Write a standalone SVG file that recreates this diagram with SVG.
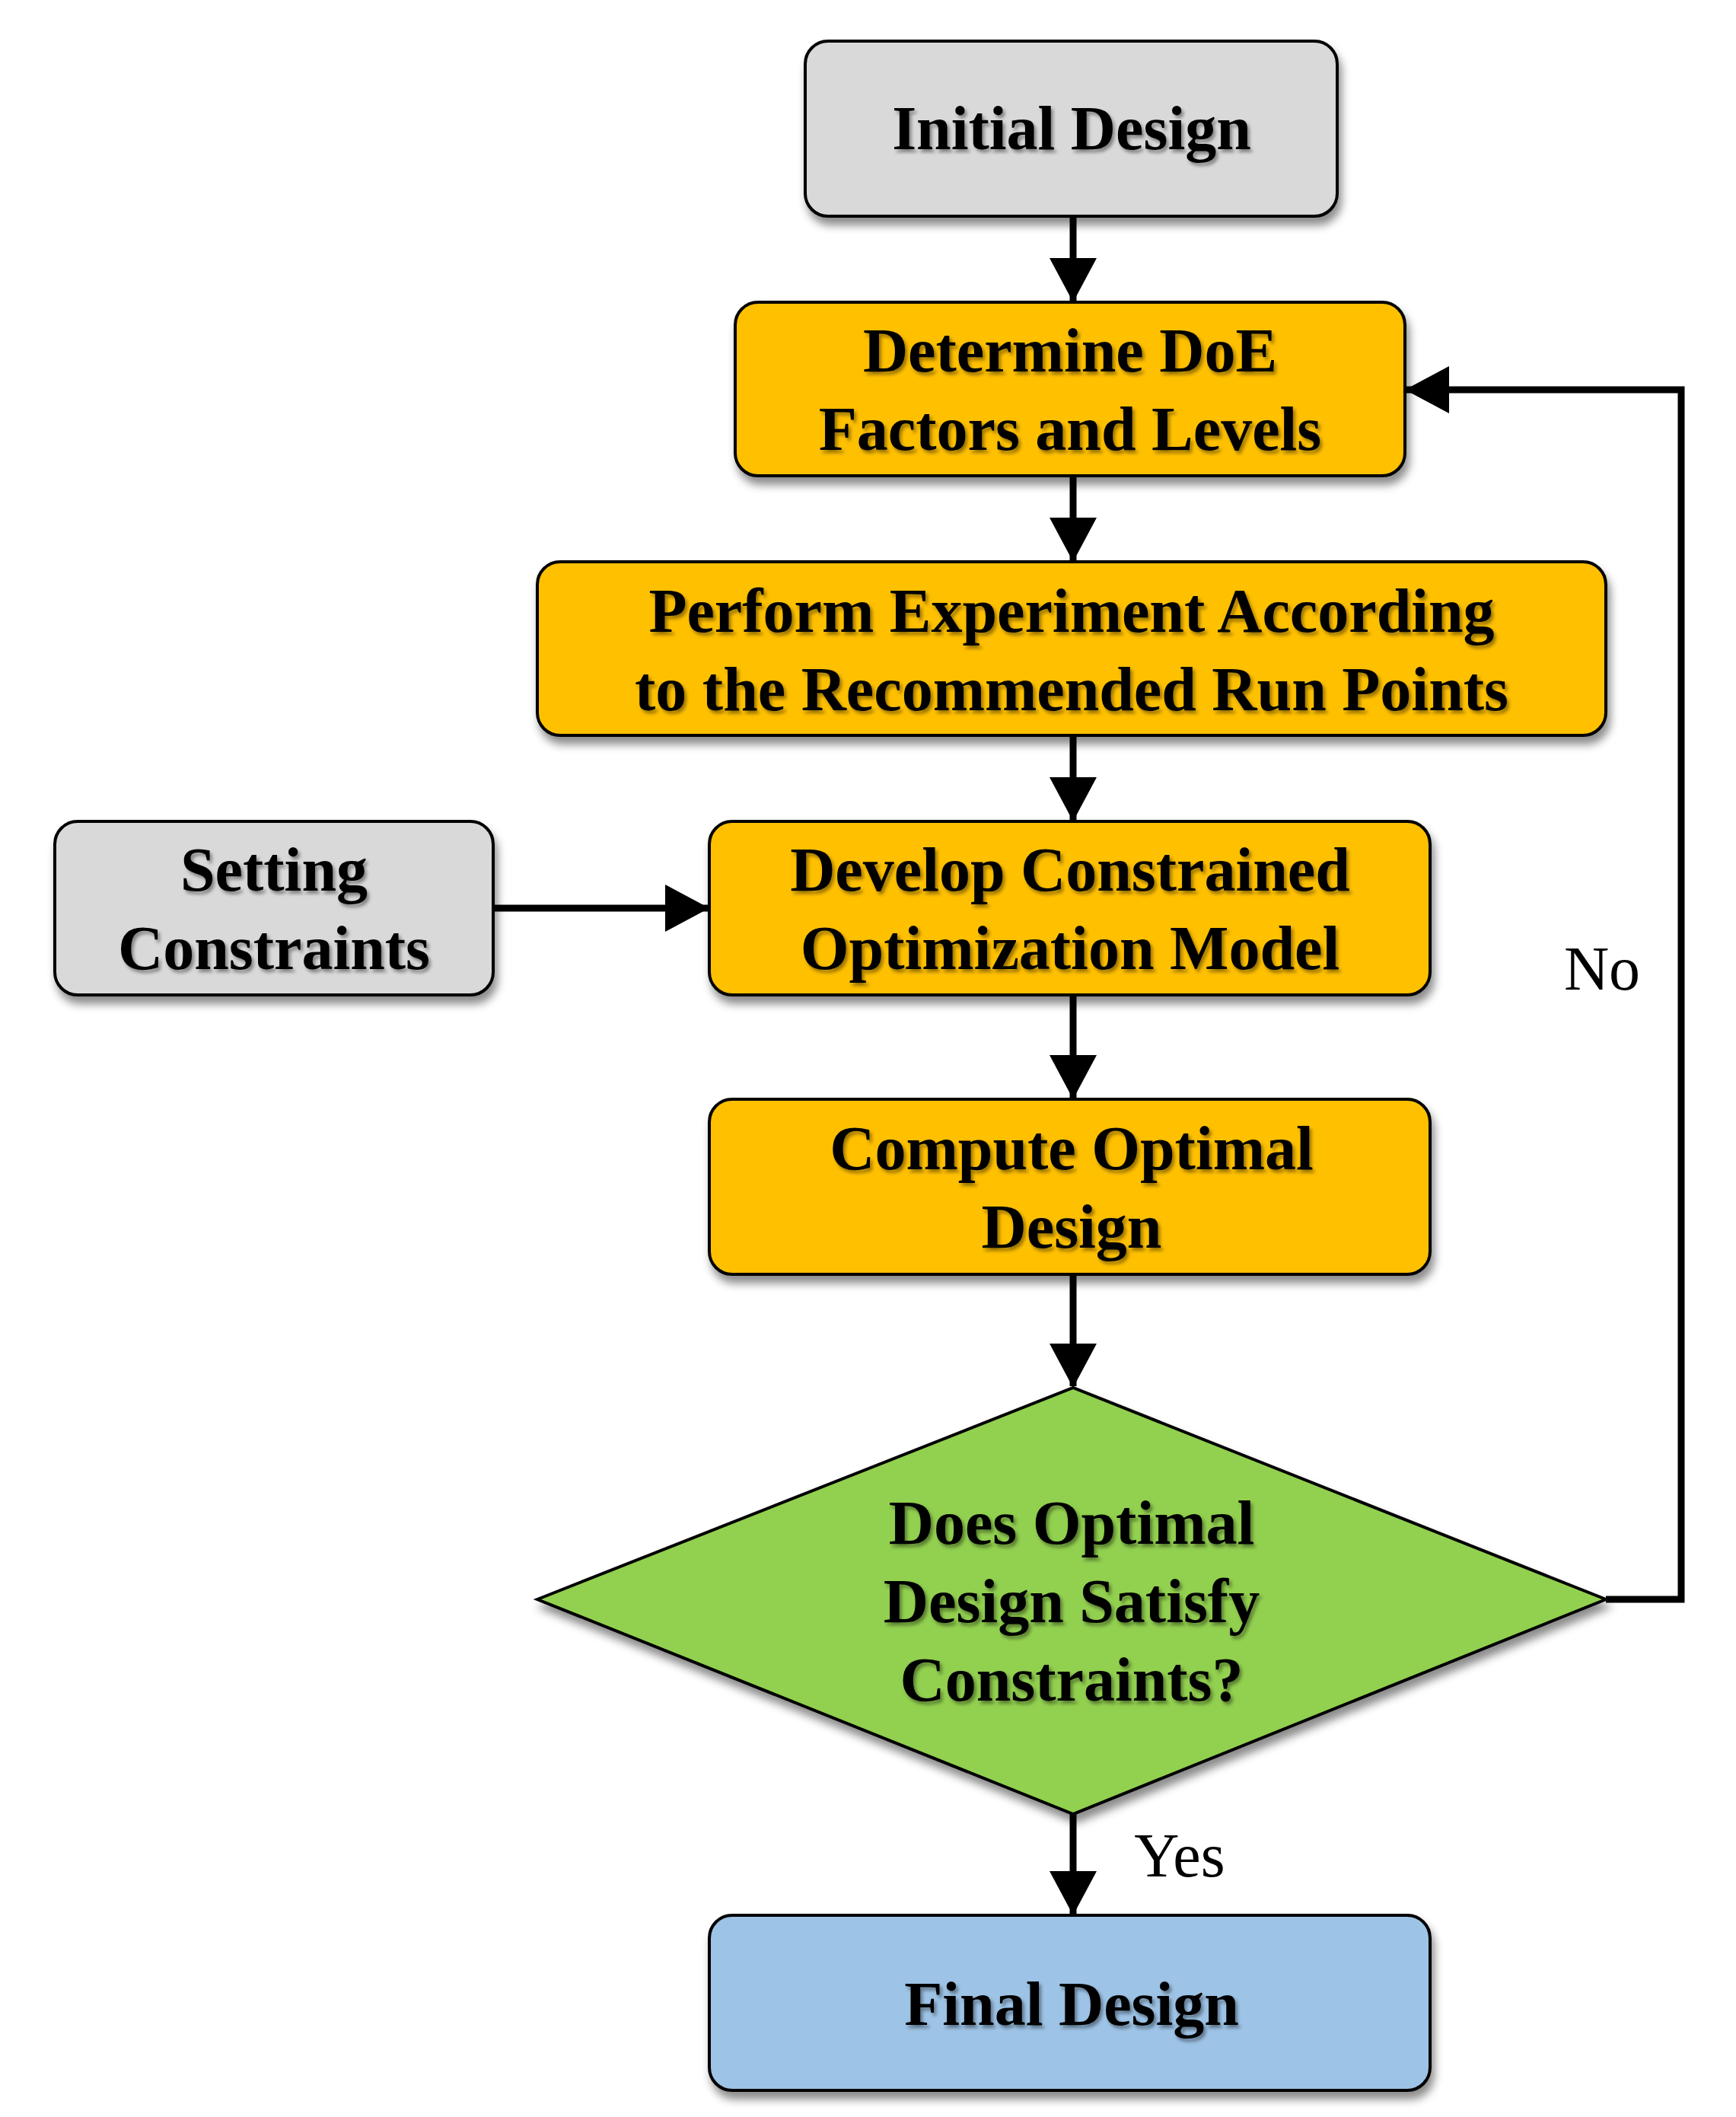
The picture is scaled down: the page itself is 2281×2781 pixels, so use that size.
<svg xmlns="http://www.w3.org/2000/svg" width="2281" height="2781" viewBox="0 0 2281 2781">
<defs>
<filter id="sh" x="-10%" y="-10%" width="130%" height="140%"><feDropShadow dx="4" dy="10" stdDeviation="6" flood-color="#000" flood-opacity="0.45"/></filter>
<filter id="ts" x="-5%" y="-20%" width="110%" height="150%"><feDropShadow dx="3" dy="4" stdDeviation="2" flood-color="#000" flood-opacity="0.4"/></filter>
<marker id="ah" markerUnits="userSpaceOnUse" markerWidth="60" markerHeight="62" refX="56" refY="31" orient="auto"><path d="M0,0 L58,31 L0,62 Z" fill="#000"/></marker>
</defs>
<style>
.box{stroke:#000;stroke-width:4;filter:url(#sh)}
.g{fill:#d9d9d9}.o{fill:#ffc000}.b{fill:#9dc3e6}.gr{fill:#92d050}
.t{font-family:"Liberation Serif",serif;font-weight:bold;font-size:82px;text-anchor:middle;fill:#000;filter:url(#ts)}
.l{font-family:"Liberation Serif",serif;font-size:82px;fill:#000}
.c{stroke:#000;stroke-width:9;fill:none;marker-end:url(#ah)}
</style>
<g id="connectors">
<path class="c" d="M1410,284 V395"/>
<path class="c" d="M1410,625 V736"/>
<path class="c" d="M1410,966 V1077"/>
<path class="c" d="M648,1193 H930"/>
<path class="c" d="M1410,1307 V1442"/>
<path class="c" d="M1410,1674 V1821"/>
<path class="c" d="M1410,2383 V2514"/>
<path class="c" d="M2110,2101 H2209 V512 H1848"/>
<text class="l" x="2105" y="1300" text-anchor="middle">No</text>
<text class="l" x="1550" y="2465" text-anchor="middle">Yes</text>
</g>
<g id="initial"><rect class="box g" x="1058" y="54" width="699" height="230" rx="30"/><text class="t" x="1408" y="196">Initial Design</text></g>
<g id="determine"><rect class="box o" x="966" y="397" width="880" height="228" rx="30"/><text class="t" x="1406" y="488">Determine DoE</text><text class="t" x="1406" y="591">Factors and Levels</text></g>
<g id="perform"><rect class="box o" x="706" y="738" width="1404" height="228" rx="30"/><text class="t" x="1408" y="830">Perform Experiment According</text><text class="t" x="1408" y="933">to the Recommended Run Points</text></g>
<g id="setting"><rect class="box g" x="72" y="1079" width="576" height="228" rx="30"/><text class="t" x="360" y="1170">Setting</text><text class="t" x="360" y="1273">Constraints</text></g>
<g id="develop"><rect class="box o" x="932" y="1079" width="947" height="228" rx="30"/><text class="t" x="1406" y="1170">Develop Constrained</text><text class="t" x="1406" y="1273">Optimization Model</text></g>
<g id="compute"><rect class="box o" x="932" y="1444" width="947" height="230" rx="30"/><text class="t" x="1408" y="1536">Compute Optimal</text><text class="t" x="1408" y="1639">Design</text></g>
<g id="decision"><polygon class="box gr" points="706,2101 1410,1823 2110,2101 1410,2383"/><text class="t" x="1408" y="2028">Does Optimal</text><text class="t" x="1408" y="2131">Design Satisfy</text><text class="t" x="1408" y="2234">Constraints?</text></g>
<g id="final"><rect class="box b" x="932" y="2516" width="947" height="230" rx="30"/><text class="t" x="1408" y="2660">Final Design</text></g>
</svg>
